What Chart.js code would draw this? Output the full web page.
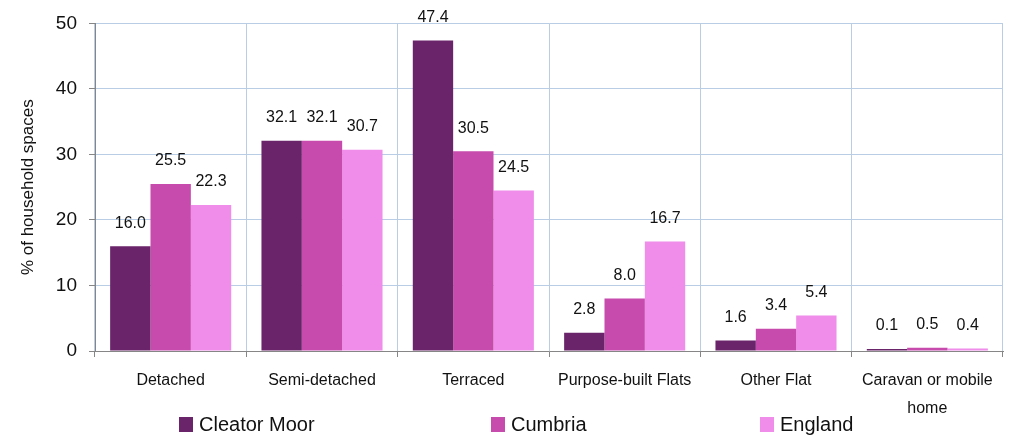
<!DOCTYPE html>
<html>
<head>
<meta charset="utf-8">
<script src="https://cdn.jsdelivr.net/npm/chart.js@4.4.0/dist/chart.umd.min.js"></script>
<style>
  html, body { margin: 0; padding: 0; background: #fff; }
  #wrap { width: 1009px; height: 436px; }
</style>
</head>
<body>
<div id="wrap"><canvas id="housingChart" width="1009" height="436"></canvas></div>
<script>
const categories = ['Detached', 'Semi-detached', 'Terraced', 'Purpose-built Flats', 'Other Flat', ['Caravan or mobile', 'home']];
const seriesNames = ['Cleator Moor', 'Cumbria', 'England'];
const cleatorMoor = [16.0, 32.1, 47.4, 2.8, 1.6, 0.1];
const cumbria = [25.5, 32.1, 30.5, 8.0, 3.4, 0.5];
const england = [22.3, 30.7, 24.5, 16.7, 5.4, 0.4];
const yTicks = [0, 10, 20, 30, 40, 50];

const colours = ['#6a246a', '#c64bad', '#f08cea'];
const fontFamily = '"Liberation Sans", Arial, sans-serif';
const gridBlue = '#b9cde5';
const axisGrey = '#868686';

// value labels above each bar
const barLabels = {
    id: 'barLabels',
    afterDatasetsDraw(chart) {
        const ctx = chart.ctx;
        ctx.save();
        ctx.font = '16px ' + fontFamily;
        ctx.fillStyle = '#111';
        ctx.textAlign = 'center';
        ctx.textBaseline = 'middle';
        chart.data.datasets.forEach((ds, i) => {
            chart.getDatasetMeta(i).data.forEach((bar, j) => {
                ctx.fillText(ds.data[j].toFixed(1), bar.x, bar.y - 23);
            });
        });
        ctx.restore();
    }
};

// legend laid out like the original, spread along the bottom
const spreadLegend = {
    id: 'spreadLegend',
    afterDraw(chart) {
        const ctx = chart.ctx;
        const xs = [179, 491, 760];
        const y = 424;
        ctx.save();
        ctx.font = '20px ' + fontFamily;
        ctx.textBaseline = 'middle';
        ctx.textAlign = 'left';
        chart.data.datasets.forEach((ds, i) => {
            ctx.fillStyle = ds.backgroundColor;
            ctx.fillRect(xs[i], y - 7, 14, 15);
            ctx.fillStyle = '#111';
            ctx.fillText(ds.label, xs[i] + 20, y + 1);
        });
        ctx.restore();
    }
};

const ctx = document.getElementById('housingChart').getContext('2d');
new Chart(ctx, {
    type: 'bar',
    data: {
        labels: categories,
        datasets: [
            { label: seriesNames[0], data: cleatorMoor, backgroundColor: colours[0] },
            { label: seriesNames[1], data: cumbria, backgroundColor: colours[1] },
            { label: seriesNames[2], data: england, backgroundColor: colours[2] }
        ]
    },
    options: {
        responsive: false,
        animation: false,
        devicePixelRatio: 1,
        layout: { padding: { top: 20, right: 6, left: 0, bottom: 0 } },
        datasets: {
            bar: { categoryPercentage: 0.8, barPercentage: 1.0, minBarLength: 2 }
        },
        plugins: {
            legend: { display: false },
            tooltip: { enabled: false }
        },
        scales: {
            x: {
                grid: {
                    offset: true,
                    color: gridBlue,
                    tickColor: axisGrey,
                    tickLength: 6
                },
                border: { color: axisGrey },
                ticks: {
                    color: '#111',
                    padding: 10,
                    maxRotation: 0,
                    autoSkip: false,
                    font: { family: fontFamily, size: 16, lineHeight: 1.75 }
                },
                afterFit(scale) { scale.height = 85; }
            },
            y: {
                min: 0,
                max: 50,
                afterBuildTicks(scale) { scale.ticks = yTicks.map(v => ({ value: v })); },
                grid: {
                    color: gridBlue,
                    tickColor: axisGrey,
                    tickLength: 6
                },
                border: { color: axisGrey },
                ticks: {
                    color: '#111',
                    padding: 12,
                    font: { family: fontFamily, size: 19 }
                },
                title: {
                    display: true,
                    text: '% of household spaces',
                    color: '#111',
                    padding: { top: 18, bottom: 0 },
                    font: { family: fontFamily, size: 17 }
                },
                afterFit(scale) { scale.width = 95; }
            }
        }
    },
    plugins: [barLabels, spreadLegend]
});
</script>
</body>
</html>
